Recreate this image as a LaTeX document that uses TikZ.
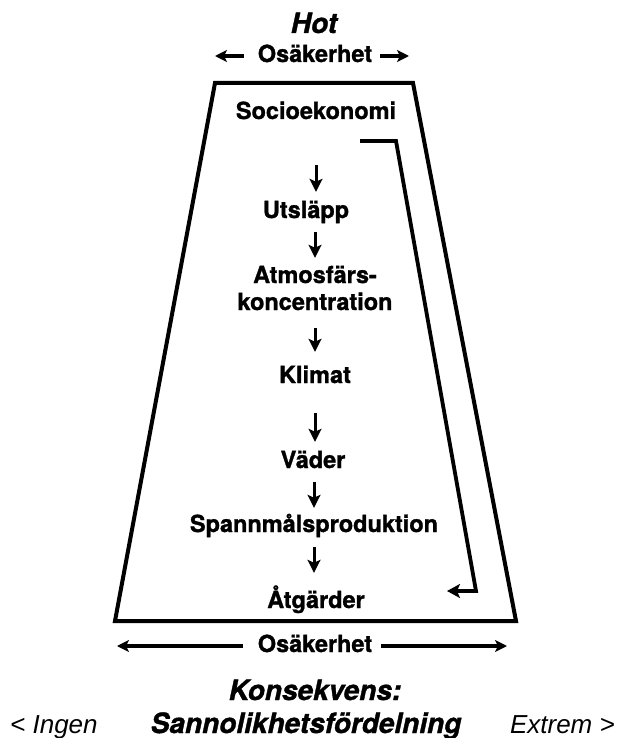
\documentclass[tikz,border=0pt]{standalone}
\usepackage{fontspec}
\setmainfont{TeX Gyre Heros}[BoldFeatures={FakeBold=1.2}, BoldItalicFeatures={FakeBold=1.2}]
\newfontfamily\sidefont{Liberation Sans}
\usetikzlibrary{arrows.meta}

\begin{document}
\begin{tikzpicture}[
  x=1pt, y=-1pt,
  lab/.style={font=\fontsize{23.5}{28}\selectfont\bfseries, inner sep=0pt, anchor=base, text height=17pt, text depth=5pt},
  head/.style={font=\fontsize{28}{32}\selectfont\bfseries\itshape, inner sep=0pt, anchor=base},
  side/.style={font=\fontsize{26}{30}\selectfont\sidefont\itshape, inner sep=0pt},
  frame/.style={line width=4pt, line join=miter},
  dn/.style={-{Stealth[length=13pt,width=13pt,inset=3pt]}, line width=3pt},
  hz/.style={-{Stealth[length=12pt,width=12pt,inset=3pt]}, line width=3.2pt},
  fb/.style={-{Stealth[length=13pt,width=14pt,inset=3pt]}, line width=3.8pt, line join=miter},
]
\useasboundingbox (0,0) rectangle (618,738);

\coordinate (tl) at (215,83);
\coordinate (tr) at (413,83);
\coordinate (br) at (516,621);
\coordinate (bl) at (115,621);
\draw[frame] (tl) -- (tr) -- (br) -- (bl) -- cycle;

\node[head] (hot) at (314,33) {Hot};
\node[lab] (osakT) at (315,62) {Osäkerhet};
\draw[hz, shorten <=14pt] (osakT.west) -- (osakT.west -| tl);
\draw[hz, shorten <=8pt, shorten >=4pt] (osakT.east) -- (osakT.east -| tr);

\node[lab] (socio) at (316,119) {Socioekonomi};
\node[lab] (utsl)  at (306,218) {Utsläpp};
\node[lab] (atm)   at (315,283) {Atmosfärs-};
\node[lab] (konc)  at (315,310) {koncentration};
\node[lab] (klim)  at (315,383) {Klimat};
\node[lab] (vader) at (313,468) {Väder};
\node[lab] (spann) at (314,532) {Spannmålsproduktion};
\node[lab] (atg)   at (316,608) {Åtgärder};

\draw[dn, shorten <=41pt, shorten >=9pt] (socio.south) -- (socio.south |- utsl.north);
\draw[dn, shorten <=9pt, shorten >=8pt] (utsl.south -| atm.north) -- (atm.north);
\draw[dn, shorten <=13pt, shorten >=14pt] (konc.south) -- (klim.north);
\draw[dn, shorten <=25pt, shorten >=9pt] (klim.south) -- (klim.south |- vader.north);
\draw[dn, shorten <=9pt, shorten >=7pt] (vader.south -| spann.north) -- (spann.north);
\draw[dn, shorten <=10pt, shorten >=18pt] (spann.south) -- (spann.south |- atg.north);

\coordinate (fbA) at (360,141);
\coordinate (fbB) at (396,141);
\coordinate (fbC) at (476,591);
\coordinate (fbD) at (447,591);
\draw[fb] (fbA) -- (fbB) -- (fbC) -- (fbD);

\node[lab] (osakB) at (315,652) {Osäkerhet};
\draw[hz, shorten <=15pt, shorten >=2pt] (osakB.west) -- (osakB.west -| bl);
\draw[hz, shorten <=9pt, shorten >=9pt] (osakB.east) -- (osakB.east -| br);

\node[head] (kons) at (315,700) {Konsekvens:};
\node[head] (sann) at (306,733) {Sannolikhetsfördelning};
\node[side, anchor=base west] (ingen) at (10,733) {< Ingen};
\node[side, anchor=base east] (extrem) at (615,733) {Extrem >};
\end{tikzpicture}
\end{document}
